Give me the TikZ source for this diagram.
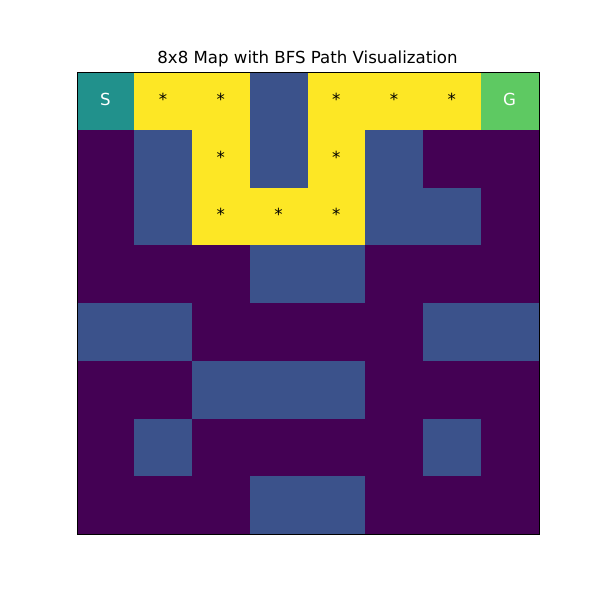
\documentclass[tikz,border=0pt]{standalone}
\usepackage{fontspec}
\setmainfont{DejaVu Sans}
\definecolor{c0}{HTML}{440154}
\definecolor{c1}{HTML}{3B528B}
\definecolor{c2}{HTML}{21918C}
\definecolor{c3}{HTML}{5EC962}
\definecolor{c4}{HTML}{FDE725}
\tikzset{
  celltext/.style={anchor=base, inner sep=0pt, font=\fontsize{12}{14}\selectfont},
  frame/.style={draw=black, line width=0.8pt},
}
\begin{document}
\begin{tikzpicture}[x=0.7227pt, y=-0.7227pt]
\useasboundingbox (0,0) rectangle (600,600);
\fill[white] (0,0) rectangle (600,600);
\def\cs{57.75}
\foreach \r/\row in {0/{2,4,4,1,4,4,4,3},1/{0,1,4,1,4,1,0,0},2/{0,1,4,4,4,1,1,0},3/{0,0,0,1,1,0,0,0},4/{1,1,0,0,0,0,1,1},5/{0,0,1,1,1,0,0,0},6/{0,1,0,0,0,0,1,0},7/{0,0,0,1,1,0,0,0}}{
  \foreach \v [count=\c from 0] in \row {
    \fill[c\v] ({76.5+\c*\cs},{72+\r*\cs}) rectangle ({76.5+(\c+1)*\cs+0.3},{72+(\r+1)*\cs+0.3});
  }
}
\node[frame, minimum width=462*0.7227pt, minimum height=462*0.7227pt, inner sep=0pt, anchor=north west] (axes) at (76.5,72) {};
\node[celltext, text=white] (s) at ({76.5+0.5*\cs},105.3) {S};
\node[celltext, text=white] (g) at ({76.5+7.5*\cs},105.3) {G};
\foreach \r/\c [count=\i] in {0/1,0/2,0/4,0/5,0/6,1/2,1/4,2/2,2/3,2/4}{
  \node[celltext, text=black] (p\i) at ({76.5+(\c+0.5)*\cs},{105.3+\r*\cs}) {*};
}
\node[celltext] (title) at (307.5,63.7) {8x8 Map with BFS Path Visualization};
\end{tikzpicture}
\end{document}
